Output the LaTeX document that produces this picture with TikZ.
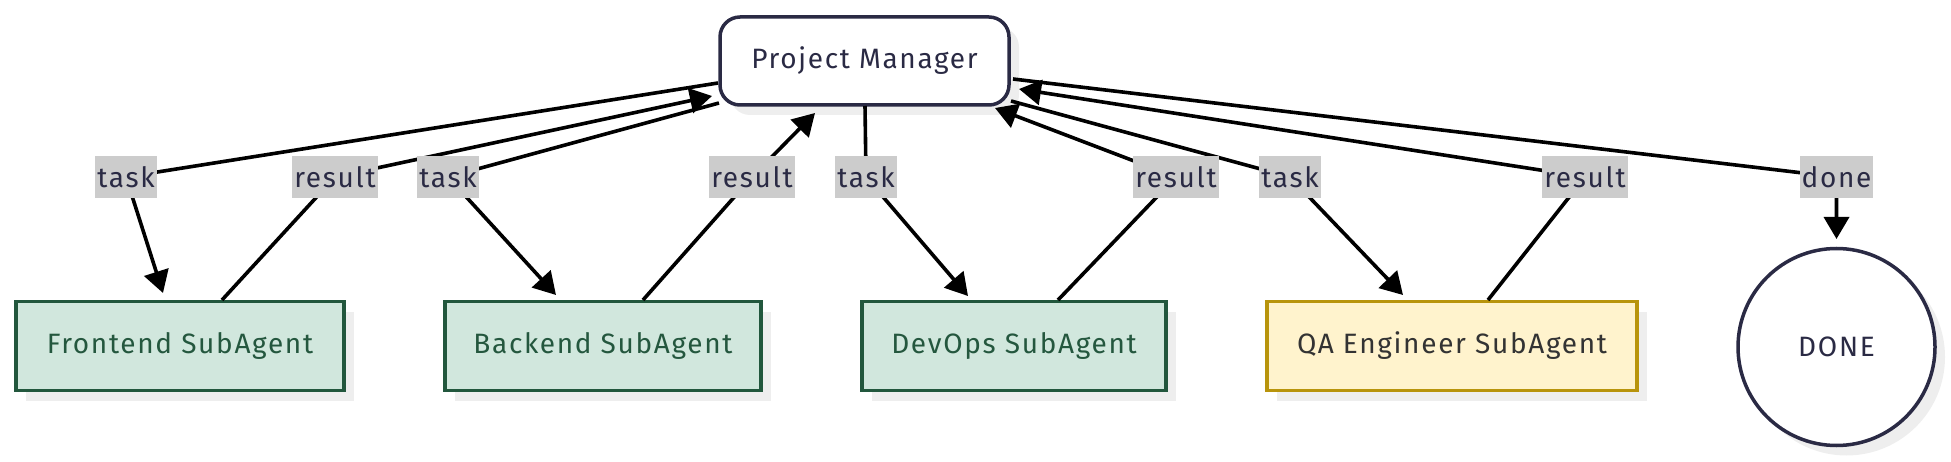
\documentclass[tikz,border=0pt]{standalone}
\usepackage{fontspec}
\setmainfont{Fira Sans}[LetterSpace=6]
\usetikzlibrary{arrows.meta,shadows,calc}
\definecolor{navy}{HTML}{2A2A44}
\definecolor{grtext}{HTML}{24573E}
\definecolor{grborder}{HTML}{22573D}
\definecolor{grfill}{HTML}{D1E7DD}
\definecolor{qaborder}{HTML}{B8940C}
\definecolor{qafill}{HTML}{FFF3CD}
\definecolor{qatext}{HTML}{333333}
\definecolor{lblgrey}{HTML}{CCCCCC}
\definecolor{shadowgrey}{HTML}{EEEEEE}
\begin{document}
\begin{tikzpicture}[x=1pt,y=-1pt,
  base/.style={font=\fontsize{28}{34}\selectfont, inner sep=0pt, line width=3.5pt,
    general shadow={fill=shadowgrey, shadow xshift=10pt, shadow yshift=-10pt}},
  pmbox/.style={base, draw=navy, fill=white, rounded corners=20pt,
    minimum width=289pt, minimum height=88pt, text=navy},
  agentbox/.style={base, rectangle, draw=grborder, fill=grfill, text=grtext,
    minimum height=89pt},
  qabox/.style={base, rectangle, draw=qaborder, fill=qafill, text=qatext,
    minimum height=89pt},
  donebox/.style={base, circle, draw=navy, fill=white, text=navy, minimum size=197pt},
  lbl/.style={fill=lblgrey, text=navy, font=\fontsize{28}{34}\selectfont,
    inner xsep=2pt, inner ysep=0pt, minimum height=42pt},
  edgeline/.style={draw=black, line width=3.6pt, line join=round},
  arr/.style={edgeline, -{Triangle[length=22pt,width=25pt]}}
]
\useasboundingbox (0,0) rectangle (1951,462);

% nodes
\node[pmbox] (pm) at (864.5,61) {Project Manager};
\node[agentbox, minimum width=328pt] (fe) at (180,346) {Frontend SubAgent};
\node[agentbox, minimum width=316pt] (be) at (603,346) {Backend SubAgent};
\node[agentbox, minimum width=304pt] (dv) at (1014,346) {DevOps SubAgent};
\node[qabox, minimum width=370pt] (qa) at (1452,346) {QA Engineer SubAgent};
\node[donebox] (dn) at (1836.5,347) {DONE};

% label positions
\coordinate (l1) at (126,177);
\coordinate (l2) at (335,177);
\coordinate (l3) at (448,177);
\coordinate (l4) at (752,177);
\coordinate (l5) at (866,177);
\coordinate (l6) at (1176,177);
\coordinate (l7) at (1290,177);
\coordinate (l8) at (1585,177);
\coordinate (l9) at (1836.5,177);

% edges
\draw[arr] ($(pm.center)+(-146.5,22)$) -- (l1) -- ($(fe.center)+(-17,-53)$);
\draw[arr] ($(fe.center)+(42,-46)$) -- (l2) -- ($(pm.center)+(-152.5,35)$);
\draw[arr] ($(pm.center)+(-145.5,42)$) -- (l3) -- ($(be.center)+(-47,-51)$);
\draw[arr] ($(be.center)+(40,-46)$) -- (l4) -- ($(pm.center)+(-49.5,52)$);
\draw[arr] ($(pm.center)+(0.5,45)$) -- (l5) -- ($(dv.center)+(-46,-50)$);
\draw[arr] ($(dv.center)+(44,-46)$) -- (l6) -- ($(pm.center)+(130.5,47)$);
\draw[arr] ($(pm.center)+(146.5,40)$) -- (l7) -- ($(qa.center)+(-49,-51)$);
\draw[arr] ($(qa.center)+(36,-46)$) -- (l8) -- ($(pm.center)+(154.5,28)$);
\draw[arr] ($(pm.center)+(148.5,18)$) -- (l9) -- ($(dn.center)+(0,-108)$);

% labels
\node[lbl] (t1) at (l1) {task};
\node[lbl] (r1) at (l2) {result};
\node[lbl] (t2) at (l3) {task};
\node[lbl] (r2) at (l4) {result};
\node[lbl] (t3) at (l5) {task};
\node[lbl] (r3) at (l6) {result};
\node[lbl] (t4) at (l7) {task};
\node[lbl] (r4) at (l8) {result};
\node[lbl] (d1) at (l9) {done};
\end{tikzpicture}
\end{document}
